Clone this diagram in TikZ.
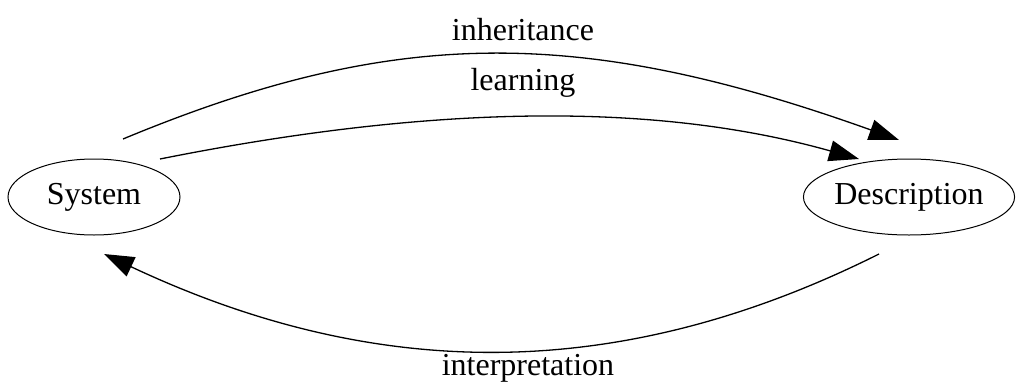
\documentclass[tikz,border=0pt]{standalone}
\usepackage{fontspec}
\setmainfont{Liberation Serif}
\usetikzlibrary{arrows.meta,shapes.geometric}
\begin{document}
\begin{tikzpicture}[x=1pt,y=-1pt,
  every node/.style={font=\fontsize{32}{38}\selectfont},
  state/.style={draw,ellipse,line width=1pt,inner sep=0pt},
  conn/.style={line width=1.3pt,-{Triangle[length=30pt,width=21pt]}},
  lbl/.style={inner sep=0pt}]
\useasboundingbox (0,0) rectangle (1016,383);
\node[state,minimum width=172,minimum height=76] (S) at (94,197) {System};
\node[state,minimum width=210,minimum height=76] (D) at (909,197) {Description};
\coordinate (i1) at (123,139);
\coordinate (i2) at (899,140);
\coordinate (l1) at (160,159);
\coordinate (l2) at (859,159);
\coordinate (r1) at (879,254);
\coordinate (r2) at (104,254);
\draw[conn] (i1) .. controls (395,26) and (580,26) .. (i2);
\draw[conn] (l1) .. controls (440,103) and (660,103) .. (l2);
\draw[conn] (r1) .. controls (621,383) and (378,383) .. (r2);
\node[lbl] (li) at (523,30) {inheritance};
\node[lbl] (ll) at (523,83) {learning};
\node[lbl] (lr) at (528,368) {interpretation};
\end{tikzpicture}
\end{document}
